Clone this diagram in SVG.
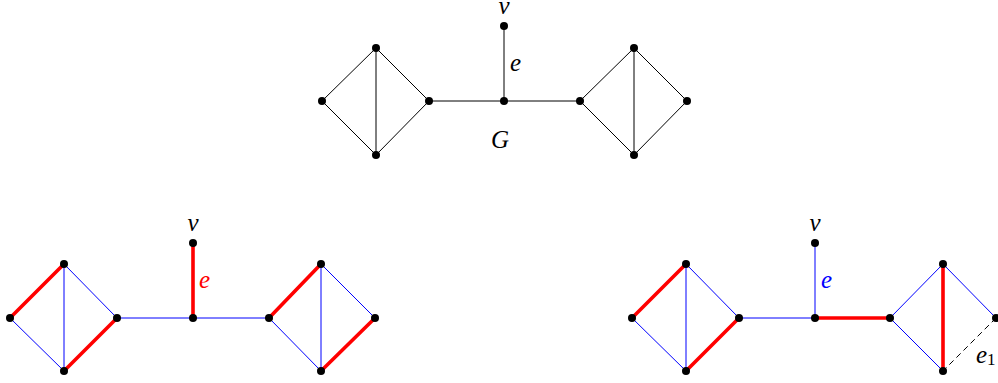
<svg xmlns="http://www.w3.org/2000/svg" width="998" height="383" viewBox="0 0 998 383">
<style>
.k{stroke:#000;stroke-width:1;fill:none}
.b{stroke:#0000ff;stroke-width:1;fill:none}
.r{stroke:#ff0000;stroke-width:3.6;fill:none}
.d{stroke:#000;stroke-width:1;fill:none;stroke-dasharray:6 4}
.n{fill:#000}
.t{font-family:'Liberation Serif','Times New Roman',serif;font-style:italic;font-size:25px}
.s{font-style:normal;font-size:17px}
</style>
<g id="connectors">
<path class="k" d="M322,101 L376,48 L429,101 L376,155 Z M376,48 L376,155 M429,101 L580,101 M504,101 L504,26 M580,101 L634,48 L687,101 L634,155 Z M634,48 L634,155"/>
<line class="b" x1="10" y1="318" x2="64" y2="371"/>
<line class="b" x1="64" y1="264" x2="117" y2="318"/>
<line class="b" x1="64" y1="264" x2="64" y2="371"/>
<line class="b" x1="117" y1="318" x2="269" y2="318"/>
<line class="b" x1="269" y1="318" x2="321" y2="371"/>
<line class="b" x1="321" y1="264" x2="375" y2="318"/>
<line class="b" x1="321" y1="264" x2="321" y2="371"/>
<path class="r" d="M10,318 L64,264 M117,318 L64,371 M193,318 L193,243 M269,318 L321,264 M375,318 L321,371"/>
<line class="b" x1="632" y1="318" x2="686" y2="371"/>
<line class="b" x1="686" y1="264" x2="739" y2="318"/>
<line class="b" x1="686" y1="264" x2="686" y2="371"/>
<line class="b" x1="739" y1="318" x2="815" y2="318"/>
<line class="b" x1="815" y1="318" x2="815" y2="243"/>
<line class="b" x1="890" y1="318" x2="943" y2="264"/>
<line class="b" x1="890" y1="318" x2="943" y2="371"/>
<line class="b" x1="943" y1="264" x2="996" y2="318"/>
<path class="r" d="M632,318 L686,264 M739,318 L686,371 M815,318 L890,318 M943,264 L943,371"/>
<path class="d" d="M996,318 L943,371"/>
</g>
<g id="nodes-top">
<circle class="n" cx="322" cy="101" r="4"/>
<circle class="n" cx="376" cy="48" r="4"/>
<circle class="n" cx="429" cy="101" r="4"/>
<circle class="n" cx="376" cy="155" r="4"/>
<circle class="n" cx="504" cy="101" r="4"/>
<circle class="n" cx="504" cy="26" r="4"/>
<circle class="n" cx="580" cy="101" r="4"/>
<circle class="n" cx="634" cy="48" r="4"/>
<circle class="n" cx="687" cy="101" r="4"/>
<circle class="n" cx="634" cy="155" r="4"/>
</g>
<g id="nodes-bottom-left">
<circle class="n" cx="10" cy="318" r="4"/>
<circle class="n" cx="64" cy="264" r="4"/>
<circle class="n" cx="117" cy="318" r="4"/>
<circle class="n" cx="64" cy="371" r="4"/>
<circle class="n" cx="193" cy="318" r="4"/>
<circle class="n" cx="193" cy="243" r="4"/>
<circle class="n" cx="269" cy="318" r="4"/>
<circle class="n" cx="321" cy="264" r="4"/>
<circle class="n" cx="375" cy="318" r="4"/>
<circle class="n" cx="321" cy="371" r="4"/>
</g>
<g id="nodes-bottom-right">
<circle class="n" cx="632" cy="318" r="4"/>
<circle class="n" cx="686" cy="264" r="4"/>
<circle class="n" cx="739" cy="318" r="4"/>
<circle class="n" cx="686" cy="371" r="4"/>
<circle class="n" cx="815" cy="318" r="4"/>
<circle class="n" cx="815" cy="243" r="4"/>
<circle class="n" cx="890" cy="318" r="4"/>
<circle class="n" cx="943" cy="264" r="4"/>
<circle class="n" cx="996" cy="318" r="4"/>
<circle class="n" cx="943" cy="371" r="4"/>
</g>
<g id="labels">
<text class="t" x="504" y="14" text-anchor="middle">v</text>
<text class="t" x="510" y="71">e</text>
<text class="t" x="500" y="148" text-anchor="middle">G</text>
<text class="t" x="193" y="231" text-anchor="middle">v</text>
<text class="t" x="199" y="288" fill="#ff0000">e</text>
<text class="t" x="815" y="231" text-anchor="middle">v</text>
<text class="t" x="821" y="288" fill="#0000ff">e</text>
<text class="t" x="976" y="363">e<tspan class="s" dy="2">1</tspan></text>
</g>
</svg>
